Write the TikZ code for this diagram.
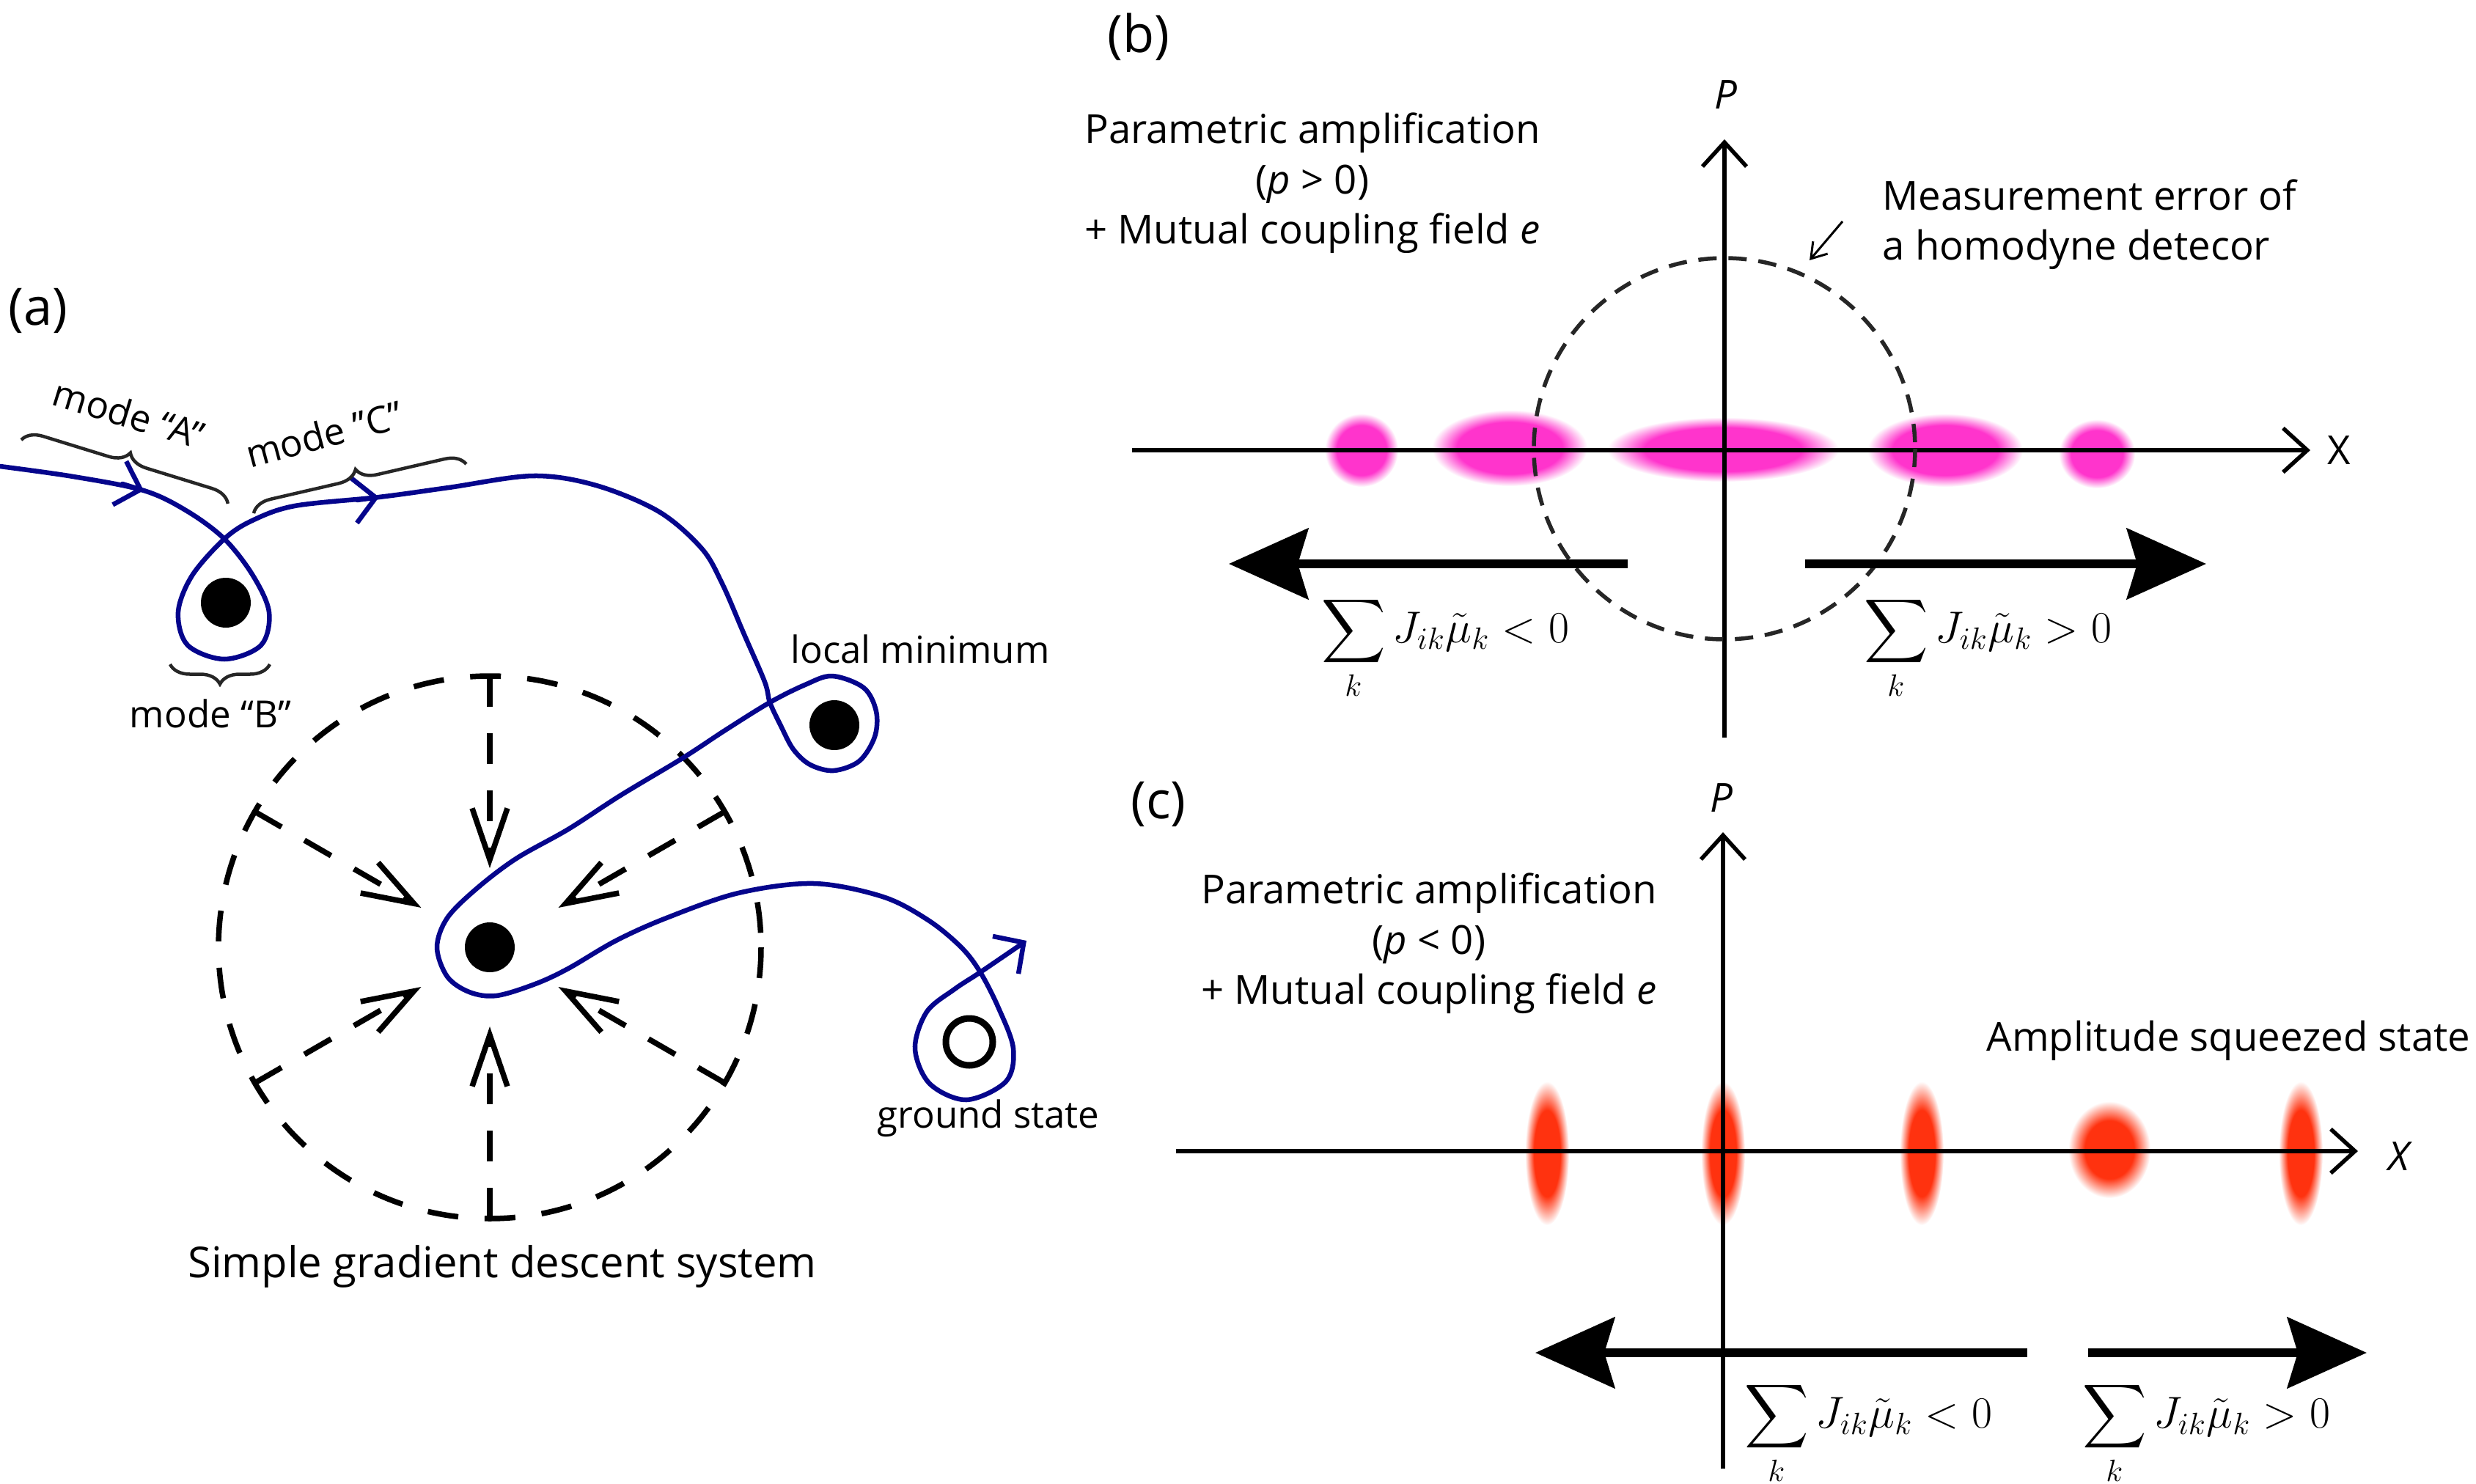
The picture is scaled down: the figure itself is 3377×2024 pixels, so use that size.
\documentclass[tikz,border=0pt]{standalone}
\usepackage{amsmath}
\usepackage{fontspec}
\setmainfont{Open Sans}
\usetikzlibrary{arrows.meta,decorations.pathreplacing}
\definecolor{pathblue}{RGB}{5,5,140}
\definecolor{blobpink}{RGB}{255,52,204}
\definecolor{blobred}{RGB}{255,50,15}
\pgfdeclareradialshading{pinkblob}{\pgfpoint{0bp}{0bp}}{color(0bp)=(blobpink); color(17bp)=(blobpink); color(25bp)=(white); color(50bp)=(white)}
\pgfdeclareradialshading{redblob}{\pgfpoint{0bp}{0bp}}{color(0bp)=(blobred); color(15bp)=(blobred); color(25bp)=(white); color(50bp)=(white)}
\begin{document}
\begin{tikzpicture}[x=0.01cm,y=-0.01cm,
  txt/.style={font=\fontsize{15.5}{19.5}\selectfont, align=center, inner sep=0pt},
  small/.style={txt, font=\fontsize{14.5}{18}\selectfont},
  panel/.style={font=\fontsize{20}{24}\selectfont, inner sep=0pt},
  curve/.style={pathblue, line width=0.065cm, line cap=round, line join=round},
  bluetip/.style={curve, -{Straight Barb[length=0.3cm,width=0.62cm]}},
  dashline/.style={line width=0.075cm, dash pattern=on 0.42cm off 0.36cm},
  axis/.style={line width=0.055cm, -{Straight Barb[length=0.33cm,width=0.6cm]}},
  bigarrow/.style={line width=0.12cm, -{Stealth[length=1.08cm,width=0.96cm,inset=0.14cm]}},
  bracemark/.style={decorate, decoration={brace, amplitude=0.27cm}, line width=0.045cm, black!85},
  formula/.style={inner sep=0pt, font=\fontsize{17.28}{20}\selectfont},
]
\useasboundingbox (0,0) rectangle (3377,2024);

% (a) 梯度下降
\node[panel] (la) at (52,424) {(a)};
\draw[dashline] (668,1292) circle [radius=370];
\foreach \a in {30,90,150,210,270,330}
  \draw[dashline, -{Straight Barb[length=0.7cm,width=0.48cm]}]
    ([shift={(\a:370)}]668,1292) -- ([shift={(\a:108)}]668,1292);
% 轨迹
\draw[curve, -{Straight Barb[length=0.3cm,width=0.62cm]}] plot[smooth, tension=0.55] coordinates {
  (0,636) (100,650) (196,669) (255,697) (306,735)
  (345,785) (367,835) (356,880) (306,899) (256,880) (243,835) (262,785) (306,735)
  (344,710) (402,690) (517,678) (612,665) (727,649) (813,662) (899,698)
  (957,748) (985,796) (1014,863) (1043,930) (1050,958)
  (1065,990) (1082,1022) (1105,1043) (1137,1051) (1172,1038) (1193,1005)
  (1195,970) (1178,938) (1135,922) (1098,934) (1050,958)
  (989,996) (931,1034) (846,1085) (775,1131) (704,1171) (650,1212) (610,1252)
  (596,1292) (610,1332) (640,1353) (677,1358) (730,1342) (775,1321) (840,1283)
  (909,1252) (1007,1218) (1110,1205) (1204,1223) (1266,1255) (1311,1292)
  (1337,1326) (1362,1375) (1382,1430) (1372,1475) (1318,1500) (1268,1478)
  (1248,1430) (1264,1380) (1302,1349) (1337,1326) (1400,1283)};
\coordinate (ta1) at (167,660);
\coordinate (tb1) at (196,669);
\coordinate (ta2) at (487,682);
\coordinate (tb2) at (517,678);
\draw[bluetip] (ta1) -- (tb1);
\draw[bluetip] (ta2) -- (tb2);
% 极小点
\fill (308,822) circle [radius=34];
\fill (1138,989) circle [radius=34];
\fill (668,1292) circle [radius=34];
\draw[line width=0.09cm] (1322,1421) circle [radius=32];
% 括号
\draw[bracemark] (29,600) -- (311,687);
\draw[bracemark] (346,700) -- (636,633);
\draw[bracemark] (368,906) -- (232,906);
\node[small, rotate=-17] (modeA) at (176,564) {mode ``A''};
\node[small, rotate=15] (modeC) at (442,592) {mode "C"};
\node[small] (modeB) at (287,973) {mode ``B''};
\node[small] (locmin) at (1255,885) {local minimum};
\node[small] (ground) at (1348,1525) {ground state};
\node[txt, font=\fontsize{16.5}{20}\selectfont] (simple) at (685,1727) {Simple gradient descent system};

% (b) p > 0
\node[panel] (lb) at (1553,50) {(b)};
\shade[shading=pinkblob] (1857,614) ellipse [x radius=50, y radius=50];
\shade[shading=pinkblob] (2059,611) ellipse [x radius=106, y radius=52];
\shade[shading=pinkblob] (2350,613) ellipse [x radius=158, y radius=44];
\shade[shading=pinkblob] (2653,614) ellipse [x radius=106, y radius=50];
\shade[shading=pinkblob] (2860,619) ellipse [x radius=52, y radius=47];
% 坐标轴
\draw[axis] (1544,614) -- (3151,614);
\draw[axis] (2352,1006) -- (2352,190);
\node[txt] (Xb) at (3190,614) {X};
\node[txt] (Pb) at (2354,129) {\textit{P}};
% 测量误差
\draw[black!85, line width=0.055cm, dash pattern=on 0.25cm off 0.16cm] (2352,612) circle [radius=260];
\node[txt, align=left, anchor=west] (merr) at (2567,306) {Measurement error of\\a homodyne detecor};
\coordinate (et) at (2513,302);
\coordinate (eh) at (2468,355);
\draw[line width=0.03cm, -{Straight Barb[length=0.2cm,width=0.26cm]}] (et) -- (eh);
\node[txt] (ampb) at (1790,250) {Parametric amplification\\(\textit{p} > 0)\\+ Mutual coupling field \textit{e}};
% 作用力
\coordinate (bl1) at (2220,769);
\coordinate (bl2) at (1676,769);
\coordinate (br1) at (2462,769);
\coordinate (br2) at (3009,769);
\draw[bigarrow] (bl1) -- (bl2);
\draw[bigarrow] (br1) -- (br2);
\node[formula] (sumbl) at (1971,884) {$\displaystyle\sum_k J_{ik}\tilde{\mu}_k<0$};
\node[formula] (sumbr) at (2711,884) {$\displaystyle\sum_k J_{ik}\tilde{\mu}_k>0$};

% (c) p < 0
\node[panel] (lc) at (1580,1097) {(c)};
\foreach \xc in {2110,2350,2621,3138}
  \shade[shading=redblob] (\xc,1573) ellipse [x radius=30, y radius=98];
\shade[shading=redblob] (2877,1568) ellipse [x radius=56, y radius=66];
% 坐标轴
\draw[axis] (1604,1570) -- (3216,1570);
\draw[axis] (2350,2003) -- (2350,1135);
\node[txt] (Xc) at (3274,1577) {\textit{X}};
\node[txt] (Pc) at (2348,1088) {\textit{P}};
\node[txt] (ampc) at (1949,1287) {Parametric amplification\\(\textit{p} < 0)\\+ Mutual coupling field \textit{e}};
\node[txt, anchor=west] (sqz) at (2709,1419) {Amplitude squeezed state};
% 作用力
\coordinate (cl1) at (2765,1845);
\coordinate (cl2) at (2094,1845);
\coordinate (cr1) at (2848,1845);
\coordinate (cr2) at (3228,1845);
\draw[bigarrow] (cl1) -- (cl2);
\draw[bigarrow] (cr1) -- (cr2);
\node[formula] (sumcl) at (2548,1955) {$\displaystyle\sum_k J_{ik}\tilde{\mu}_k<0$};
\node[formula] (sumcr) at (3009,1955) {$\displaystyle\sum_k J_{ik}\tilde{\mu}_k>0$};
\end{tikzpicture}
\end{document}
